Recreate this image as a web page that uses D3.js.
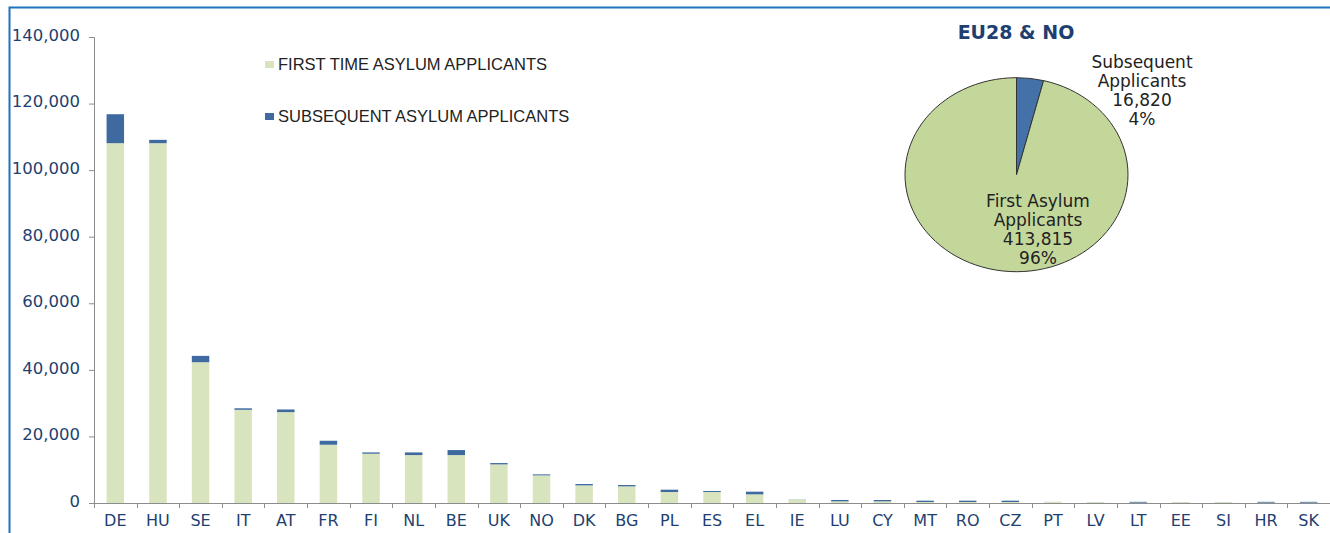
<!DOCTYPE html>
<html>
<head>
<meta charset="utf-8">
<script src="https://cdn.jsdelivr.net/npm/d3@7"></script>
<style>
  body { margin: 0; background: #fff; }
  svg { display: block; }
</style>
</head>
<body>
<svg width="1330" height="533"></svg>
<script>
// countries, ordered as in the chart
var countries = ['DE','HU','SE','IT','AT','FR','FI','NL','BE','UK','NO','DK','BG','PL','ES',
                 'EL','IE','LU','CY','MT','RO','CZ','PT','LV','LT','EE','SI','HR','SK'];
var firstTime = [108100,108100,42300,28000,27300,17500,14800,14400,14400,11600,8300,5300,5000,3300,3300,
                 2600,1000,500,500,300,300,300,300,250,100,250,250,100,100];
var subsequent = [8700,1000,1900,450,800,1200,400,800,1500,400,300,400,400,700,300,
                  800,50,400,400,400,400,400,20,20,250,20,20,250,250];
var yTicks = [0,20000,40000,60000,80000,100000,120000,140000];

var pieLabels = ['Subsequent Applicants', 'First Asylum Applicants'];
var pieValues = [16820, 413815];
var piePct = ['4%', '96%'];

var svg = d3.select('svg');
var width = +svg.attr('width');
var height = +svg.attr('height');

var greenBar = '#d7e4bd';
var blueBar = '#3e6aa0';
var tickColor = '#1f3f70';
var axisGrey = '#8c8c8c';

// frame round the chart
svg.append('path')
  .attr('d', 'M9.5,' + height + ' L9.5,7.5 L' + width + ',7.5')
  .attr('fill', 'none')
  .attr('stroke', '#1f72bd')
  .attr('stroke-width', 2);

var x = d3.scaleBand()
  .domain(countries)
  .range([94, 1330])
  .paddingInner(0)
  .paddingOuter(0);

var y = d3.scaleLinear()
  .domain([0, 140000])
  .range([503, 37]);

var rows = countries.map(function(c, i){
  return {country: c, first: firstTime[i], sub: subsequent[i]};
});

var stack = d3.stack().keys(['first', 'sub'])(rows);
var colors = [greenBar, blueBar];

var barW = x.bandwidth() * 0.41;

svg.append('g').selectAll('g')
  .data(stack)
  .enter().append('g')
  .attr('fill', function(d, i){ return colors[i]; })
  .selectAll('rect')
  .data(function(d){ return d; })
  .enter().append('rect')
  .attr('x', function(d){ return x(d.data.country) + (x.bandwidth() - barW) / 2; })
  .attr('width', barW)
  .attr('y', function(d){ return y(d[1]); })
  .attr('height', function(d){ return Math.max(0, y(d[0]) - y(d[1])); });

// y axis
var yAxis = svg.append('g')
  .attr('transform', 'translate(94,0)')
  .call(d3.axisLeft(y).tickValues(yTicks).tickSize(5).tickPadding(9)
        .tickFormat(d3.format(',')));
yAxis.select('.domain').attr('stroke', axisGrey).attr('d', 'M-5,37.5H0.5V503.5');
yAxis.selectAll('.tick line').attr('stroke', axisGrey);
yAxis.selectAll('text')
  .attr('fill', tickColor)
  .style('font-family', 'DejaVu Sans, Verdana, sans-serif')
  .style('font-size', '16.5px')
  .attr('dy', '0.2em');

// x axis
var xAxis = svg.append('g')
  .attr('transform', 'translate(0,503)')
  .call(d3.axisBottom(x).tickSize(0).tickPadding(12));
xAxis.select('.domain').attr('stroke', axisGrey).attr('d', 'M94,0.5H1330');
xAxis.selectAll('text')
  .attr('fill', tickColor)
  .style('font-family', 'DejaVu Sans, Verdana, sans-serif')
  .style('font-size', '16px');
xAxis.append('g').selectAll('line')
  .data(countries)
  .enter().append('line')
  .attr('x1', function(d){ return Math.round(x(d)) + 0.5; })
  .attr('x2', function(d){ return Math.round(x(d)) + 0.5; })
  .attr('y1', 0)
  .attr('y2', 5)
  .attr('stroke', axisGrey);

// legend
var legendItems = ['FIRST TIME ASYLUM APPLICANTS', 'SUBSEQUENT ASYLUM APPLICANTS'];
var legend = svg.append('g').selectAll('g')
  .data(legendItems)
  .enter().append('g')
  .attr('transform', function(d, i){ return 'translate(265,' + (61 + i * 52) + ')'; });
legend.append('rect')
  .attr('width', 9)
  .attr('height', 7)
  .attr('fill', function(d, i){ return colors[i]; });
legend.append('text')
  .attr('x', 13)
  .attr('y', 9)
  .text(function(d){ return d; })
  .attr('fill', '#222')
  .style('font-family', 'Liberation Sans, Arial, sans-serif')
  .style('font-size', '16.5px');

// pie, slightly flattened like the original
var pieG = svg.append('g')
  .attr('transform', 'translate(1016.5,174.7) scale(1,0.87)');
var pie = d3.pie().sort(null)(pieValues);
var arc = d3.arc().innerRadius(0).outerRadius(111.5);
pieG.selectAll('path')
  .data(pie)
  .enter().append('path')
  .attr('d', arc)
  .attr('fill', function(d, i){ return i === 0 ? '#4472a8' : '#c4d79b'; })
  .attr('stroke', '#333')
  .attr('stroke-width', 1)
  .attr('vector-effect', 'non-scaling-stroke');

svg.append('text')
  .attr('x', 1016)
  .attr('y', 39)
  .attr('text-anchor', 'middle')
  .attr('fill', '#1f3f70')
  .style('font-family', 'DejaVu Sans, Verdana, sans-serif')
  .style('font-weight', 'bold')
  .style('font-size', '19px')
  .text('EU28 & NO');

var fmt = d3.format(',');
var labelPos = [[1142, 68], [1038, 207]];
pieLabels.forEach(function(lbl, i){
  var words = lbl.split(' ');
  var lines = i === 0 ? [words[0], words[1]] : [words[0] + ' ' + words[1], words[2]];
  lines.push(fmt(pieValues[i]));
  lines.push(piePct[i]);
  var t = svg.append('text')
    .attr('text-anchor', 'middle')
    .attr('fill', '#222')
    .style('font-family', 'DejaVu Sans, Verdana, sans-serif')
    .style('font-size', '17px');
  lines.forEach(function(l, j){
    t.append('tspan')
      .attr('x', labelPos[i][0])
      .attr('y', labelPos[i][1] + j * 19)
      .text(l);
  });
});
</script>
</body>
</html>
